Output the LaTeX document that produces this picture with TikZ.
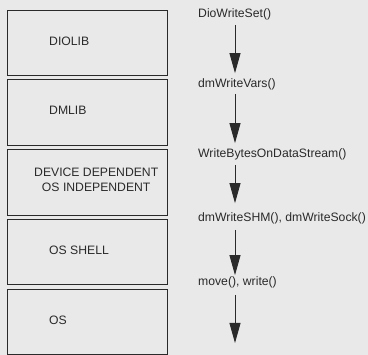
\documentclass[tikz,border=0pt]{standalone}
\usepackage{fontspec}
\setmainfont{Liberation Sans}
\usetikzlibrary{arrows.meta}
\definecolor{bg}{HTML}{E9E9E9}
\definecolor{ink}{HTML}{2A2A2A}
\begin{document}
\begin{tikzpicture}[x=1pt,y=-1pt,
  layer/.style={draw=ink,line width=0.8pt},
  lbl/.style={anchor=west,inner sep=0pt,text=ink,font=\fontsize{12.2}{14.5}\selectfont,align=left},
  flow/.style={draw=ink,line width=0.9pt,-{Triangle[length=20pt,width=11pt]}}]
\fill[bg] (0,0) rectangle (368,355);
\useasboundingbox (0,0) rectangle (368,355);
% layer boxes
\draw[layer] (7,10) rectangle (167,75);
\draw[layer] (7,79) rectangle (167,145);
\draw[layer] (7,149) rectangle (167,215);
\draw[layer] (7,219) rectangle (167,284);
\draw[layer] (7,289) rectangle (167,354);
\node[lbl] (b1) at (49,41) {DIOLIB};
\node[lbl] (b2) at (49,110) {DMLIB};
\node[lbl,align=center] (b3) at (34,180) {DEVICE DEPENDENT\\OS INDEPENDENT};
\node[lbl] (b4) at (49,250) {OS SHELL};
\node[lbl] (b5) at (49,320) {OS};
% call chain
\node[lbl] (l1) at (198,14) {DioWriteSet()};
\node[lbl] (l2) at (198,84) {dmWriteVars()};
\node[lbl] (l3) at (198,154) {WriteBytesOnDataStream()};
\node[lbl] (l4) at (198,218) {dmWriteSHM(), dmWriteSock()};
\node[lbl] (l5) at (198,282) {move(), write()};
\coordinate (ax) at (235,0);
\coordinate (e5) at (235,343);
\draw[flow] ([yshift=-5pt]l1.south -| ax) -- ([yshift=5pt]l2.north -| ax);
\draw[flow] ([yshift=-4pt]l2.south -| ax) -- ([yshift=5pt]l3.north -| ax);
\draw[flow] ([yshift=-5pt]l3.south -| ax) -- ([yshift=9pt]l4.north -| ax);
\draw[flow] ([yshift=-6pt]l4.south -| ax) -- ([yshift=1pt]l5.north -| ax);
\draw[flow] ([yshift=-7pt]l5.south -| ax) -- (e5);
\end{tikzpicture}
\end{document}
